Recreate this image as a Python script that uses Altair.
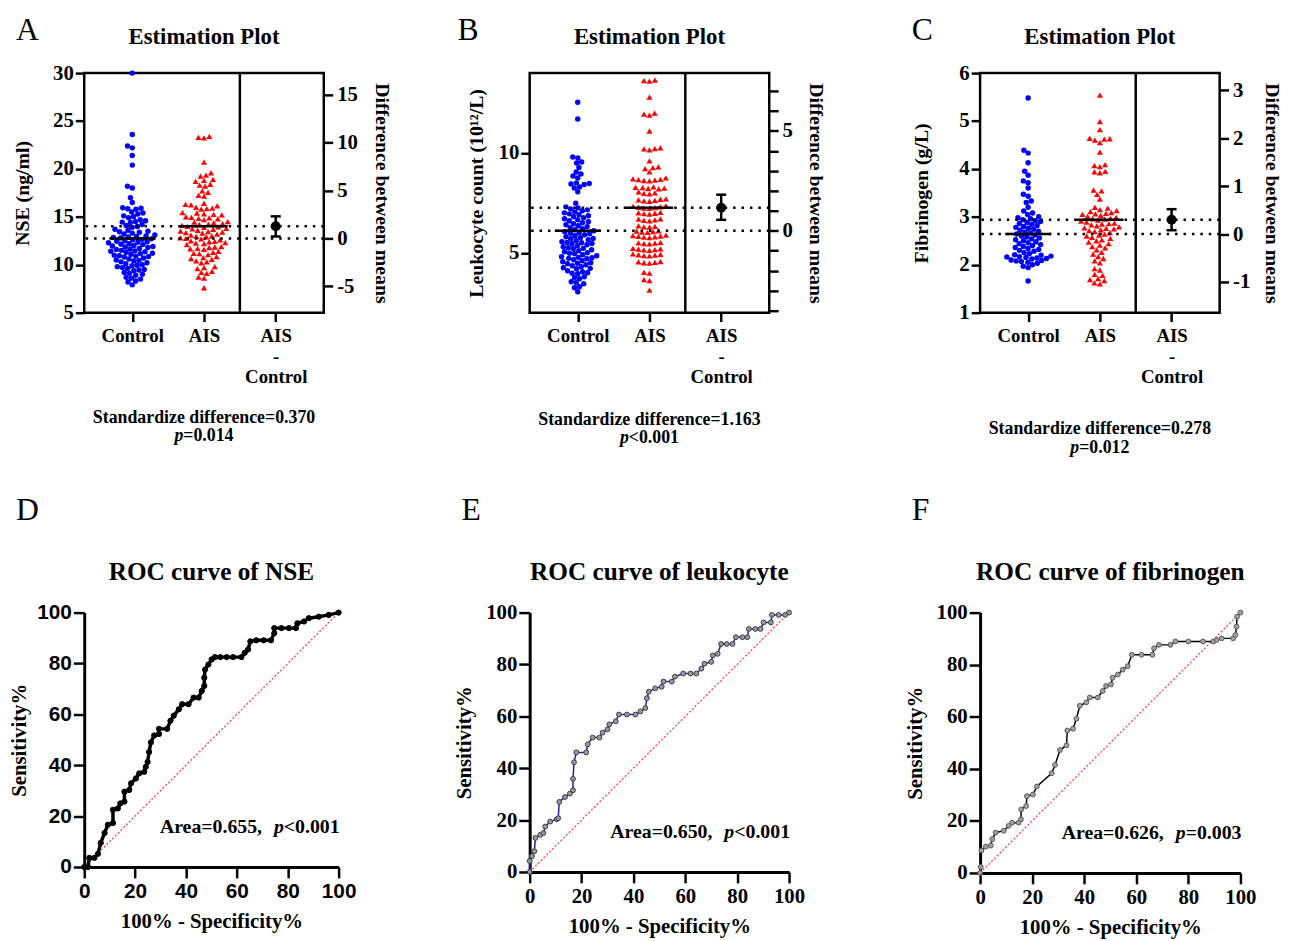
import altair as alt
import pandas as pd

SERIF = "Liberation Serif"
SANS = "Liberation Sans"

# ---------------- data ----------------
# Panel A: NSE (ng/ml)
nse_control = [30.0, 23.6, 22.4, 22.2, 21.4, 20.4, 18.2, 18.0, 17.0, 16.5,
               15.95, 15.9, 15.85, 15.8, 15.5, 15.4, 15.3, 15.1, 15.0, 14.9,
               14.7, 14.6, 14.5, 14.45, 14.4, 14.2, 14.1, 14.0, 13.9,
               13.7, 13.6, 13.5, 13.45, 13.4, 13.3, 13.2, 13.1,
               13.0, 12.95, 12.9, 12.85, 12.8, 12.7, 12.65, 12.6,
               12.5, 12.45, 12.4, 12.35, 12.3, 12.2, 12.15, 12.1,
               12.0, 11.95, 11.9, 11.85, 11.8, 11.7, 11.65, 11.6,
               11.5, 11.45, 11.4, 11.35, 11.3, 11.2, 11.15, 11.1,
               11.0, 10.95, 10.9, 10.85, 10.8, 10.7, 10.6,
               10.5, 10.45, 10.4, 10.3, 10.2, 10.1,
               10.0, 9.95, 9.9, 9.8, 9.7, 9.6, 9.5, 9.45, 9.4,
               9.2, 9.1, 9.0, 8.9, 8.7, 8.6, 8.5, 8.3, 8.2, 7.9]
nse_ais = [23.4, 23.3, 23.25, 20.7, 19.6, 19.35, 19.25, 18.9, 18.8, 18.7, 18.4, 18.3, 18.2,
           17.7, 17.55, 17.25, 17.15,
           16.4, 16.3, 16.25, 16.15, 16.0, 15.9, 15.85, 15.8,
           15.45, 15.4, 15.3, 15.25, 15.2, 15.0, 14.95, 14.9, 14.85, 14.8, 14.7,
           14.5, 14.45, 14.4, 14.3, 14.25, 14.2, 14.1,
           14.0, 13.95, 13.9, 13.8, 13.75, 13.7, 13.6,
           13.5, 13.45, 13.4, 13.35, 13.3, 13.2, 13.1,
           13.0, 12.95, 12.9, 12.8, 12.75, 12.7, 12.6,
           12.5, 12.45, 12.4, 12.3, 12.25, 12.2, 12.1,
           11.9, 11.85, 11.8, 11.7, 11.65, 11.6,
           11.4, 11.3, 11.2, 11.15, 11.05, 10.85, 10.75, 10.65, 10.55,
           10.4, 10.3, 10.2, 9.8, 9.7, 9.6, 9.3, 9.2, 9.1, 8.7, 8.6, 7.6]
nse_means = [12.75, 14.02]          # Control, AIS
nse_diff = [1.27, 0.2, 2.3]         # estimate, lower, upper

# Panel B: Leukocyte count
wbc_control = [12.54, 11.7, 9.8, 9.75, 9.55, 9.5, 9.27, 9.05, 8.95, 8.85, 8.75,
               8.5, 8.47, 8.45, 8.42, 8.3, 8.25, 8.06, 7.48,
               7.3, 7.25, 7.2, 7.15, 7.1, 7.05, 7.0, 6.95, 6.9, 6.85, 6.8, 6.75, 6.7,
               6.65, 6.6, 6.55, 6.5, 6.45, 6.4, 6.35, 6.3, 6.25, 6.2, 6.15, 6.1, 6.05,
               6.0, 5.98, 5.95, 5.9, 5.85, 5.8, 5.75, 5.72, 5.7, 5.65, 5.6, 5.55, 5.52,
               5.5, 5.47, 5.45, 5.4, 5.35, 5.3, 5.25, 5.22, 5.2, 5.15, 5.1, 5.05, 5.0,
               4.98, 4.95, 4.9, 4.85, 4.8, 4.77, 4.75, 4.72, 4.7, 4.65, 4.6, 4.55, 4.5,
               4.48, 4.45, 4.4, 4.35, 4.3, 4.25, 4.22, 4.2, 4.1, 4.05, 4.0, 3.98, 3.95,
               3.8, 3.75, 3.7, 3.55, 3.5, 3.45, 3.3, 3.25, 3.05]
wbc_ais = [13.65, 13.6, 13.62, 12.8, 12.0, 11.95, 11.9, 11.1, 10.25, 10.2, 10.22, 10.15,
           9.6, 9.3, 9.27, 9.22, 9.05,
           8.75, 8.7, 8.68, 8.66, 8.64, 8.62, 8.6, 8.3, 8.28, 8.26, 8.24, 8.22, 8.2,
           8.05, 8.0, 7.98, 7.95, 7.7, 7.68, 7.65, 7.62, 7.6, 7.58,
           7.35, 7.32, 7.3, 7.28, 7.26, 7.24, 7.22, 7.02, 7.0, 6.98, 6.96, 6.94,
           6.7, 6.68, 6.65, 6.62, 6.6, 6.35, 6.32, 6.3, 6.28,
           6.1, 6.08, 6.06, 6.04, 6.02, 5.88, 5.86, 5.84, 5.82, 5.8, 5.78, 5.76,
           5.52, 5.5, 5.48, 5.46, 5.44, 5.22, 5.2, 5.18, 5.16, 5.14, 5.12,
           4.94, 4.92, 4.9, 4.88, 4.86, 4.84, 4.56, 4.54, 4.52, 4.5, 4.48,
           4.02, 3.98, 3.65, 3.6, 3.13]
wbc_means = [6.1, 7.26]
wbc_diff = [1.16, 0.55, 1.81]

# Panel C: Fibrinogen (g/L)
fib_control = [5.48, 4.39, 4.33, 4.13, 3.95, 3.87, 3.75, 3.71, 3.6, 3.47, 3.43, 3.33, 3.3, 3.2,
               3.12, 3.08, 3.05, 3.0, 2.98, 2.96, 2.94, 2.92, 2.9, 2.88, 2.86, 2.84, 2.82,
               2.8, 2.78, 2.76, 2.74, 2.72, 2.7, 2.68, 2.66, 2.64, 2.62, 2.6, 2.58, 2.56,
               2.54, 2.52, 2.5, 2.48, 2.46, 2.44, 2.42, 2.4, 2.38, 2.36, 2.34, 2.32, 2.3,
               2.28, 2.25, 2.23, 2.21, 2.2, 2.18, 2.17, 2.16, 2.15, 2.14, 2.13, 2.12, 2.1,
               2.09, 2.08, 2.07, 2.05, 2.03, 2.0, 1.97, 1.94, 1.66]
fib_ais = [5.54, 4.99, 4.82, 4.64, 4.63, 4.62, 4.6, 4.55, 4.35, 4.09, 4.07, 4.05,
           3.95, 3.94, 3.92, 3.56, 3.54, 3.47, 3.37, 3.2, 3.18,
           3.15, 3.13, 3.11, 3.09, 3.07, 3.06, 3.05, 3.03, 3.01, 2.99, 2.97, 2.96, 2.95,
           2.93, 2.91, 2.89, 2.87, 2.86, 2.85, 2.83, 2.81, 2.79, 2.77, 2.76, 2.75, 2.73,
           2.71, 2.69, 2.67, 2.64, 2.62, 2.6, 2.57, 2.55, 2.52, 2.5, 2.47, 2.44, 2.41,
           2.38, 2.35, 2.31, 2.26, 2.22, 2.17, 2.13, 2.08, 2.04, 1.92, 1.89, 1.8, 1.78,
           1.71, 1.69, 1.67, 1.62, 1.6]
fib_means = [2.64, 2.94]
fib_diff = [0.30, 0.08, 0.52]

# ROC curves: (100% - Specificity%, Sensitivity%)
roc_nse = [(0, 0), (1.5, 0), (2, 3.6), (4, 3.6), (5.4, 5.2), (6.5, 9.5), (8, 13.4), (9.3, 16.6),
           (11.3, 17.3), (11.3, 22.5), (13.2, 23), (14.2, 25), (15.8, 25.7), (15.8, 29.6),
           (17.7, 30.3), (18.4, 32.9), (20.3, 34.8), (21.6, 36.8), (23.6, 37.4), (24.2, 39.4),
           (24.9, 41.3), (25.5, 45.2), (26.2, 49), (27.5, 51.7), (29.4, 52.3), (29.4, 54.3),
           (32.6, 54.3), (33.9, 57.5), (35.2, 59.5), (37.2, 62), (38.5, 64), (41, 64),
           (43, 66.6), (45, 66.6), (46.2, 69.2), (47.2, 71.2), (47.2, 74.4), (47.5, 77.6),
           (48.8, 79.6), (50.1, 81.6), (51.4, 82.5), (53.5, 82.5), (56, 82.5), (58.5, 82.5),
           (61.8, 82.5), (63.1, 84.2), (64.4, 85.5), (65.3, 88.7), (67.6, 89.1), (70.5, 89.1),
           (73.4, 89.1), (74.7, 91.9), (74.7, 93.9), (77.5, 93.9), (80.5, 93.9), (83.2, 93.9),
           (83.8, 95.8), (86.4, 96.5), (88.3, 97.8), (92.2, 98.4), (96.1, 99.1), (100, 100)]
roc_wbc = [(0, 0), (0, 4.2), (0.9, 6.1), (1.8, 8), (2.2, 13.1), (4.1, 14.3), (5.3, 15), (6, 17.5),
           (7.9, 19.4), (10.4, 20.3), (11, 20.7), (11.4, 27), (13.6, 28.9), (15.5, 30.2),
           (16.7, 31.5), (16.7, 35.9), (17.1, 42.3), (18, 46.1), (21.8, 46.1), (22.4, 49.2),
           (24.3, 51.8), (26.9, 51.8), (28.1, 53.7), (30, 55), (30.7, 56.9), (33.2, 58.1),
           (34.4, 60.7), (37.5, 60.7), (40.8, 60.7), (42.7, 61.9), (44.6, 63.2), (45.2, 67),
           (45.9, 69.5), (48.4, 70.8), (50.9, 71.4), (51.6, 73.4), (54.8, 73.4), (56, 75.3),
           (59.2, 76.5), (62, 76.5), (64.3, 76.5), (66.2, 78.4), (67.4, 80.3), (70, 81),
           (70.6, 83.5), (72.5, 84.1), (73.8, 87.9), (76, 87.9), (78.2, 87.9), (79.5, 90.5),
           (82, 90.5), (83.9, 90.5), (84.5, 93.7), (87, 93.7), (89, 93.7), (90.2, 96.2),
           (93, 96.2), (93.4, 99.1), (96, 99.1), (98.5, 99.1), (100, 100)]
roc_fib = [(0, 0), (0.25, 2.3), (0.5, 8.6), (2.2, 10.1), (4.1, 10.5), (4.7, 13), (6, 15.5),
           (9.1, 16.2), (11, 18.1), (12.3, 19.3), (14.8, 19.3), (15.7, 20.6), (15.8, 24.4),
           (17.7, 25.7), (18, 29.5), (20.3, 30.1), (21.8, 33.2), (27.5, 38.3), (28.8, 41.5),
           (30.7, 47.2), (33.2, 49), (33.5, 54.7), (35.7, 55.4), (37, 59.2), (38.3, 64.2),
           (40.8, 65.5), (42.1, 67.4), (45.2, 67.4), (47.1, 69.9), (48.4, 71.8), (50.3, 72.4),
           (50.9, 75), (52.9, 76.2), (54.8, 78.1), (56.7, 79.4), (58.3, 83.8), (62, 83.8),
           (66.2, 83.8), (66.8, 86.3), (68.7, 87.6), (73.1, 87.6), (75, 88.9), (80, 88.9),
           (85.6, 88.9), (89.6, 88.9), (90.9, 89.5), (92.8, 90.1), (97.2, 90.1), (98.1, 91.4),
           (98.5, 94.6), (98.7, 98.4), (100, 100)]


# ---------------- helpers ----------------
def swarm(values, px_per_unit, diam):
    """Beeswarm layout: horizontal pixel offsets so that markers do not overlap."""
    order = sorted(range(len(values)), key=lambda i: values[i])
    placed = []
    offs = [0.0] * len(values)
    for i in order:
        yp = values[i] * px_per_unit
        near = [(px, py) for px, py in placed if abs(py - yp) < diam]
        cands = [0.0]
        for px, py in near:
            dx = (diam * diam - (py - yp) ** 2) ** 0.5
            cands += [px + dx, px - dx]
        cands.sort(key=lambda c: (abs(c), c))
        best = cands[-1]
        for c in cands:
            if all((c - px) ** 2 + (py - yp) ** 2 >= diam * diam - 1e-6 for px, py in near):
                best = c
                break
        placed.append((best, yp))
        offs[i] = best
    return offs


def txt(s, x, y, size, weight="bold", style="normal", align="center", font=SERIF):
    return alt.Chart(pd.DataFrame({"t": [s]})).mark_text(
        font=font, fontSize=size, fontWeight=weight, fontStyle=style,
        align=align, baseline="alphabetic", color="black"
    ).encode(x=alt.value(x), y=alt.value(y), text="t:N")


def estimation_panel(ctrl, ais, means, diff, ylim, lticks, rticks, rshow, ytitle,
                     ypad, rpad, letter, lx, stat1, pval, sy):
    W = H = 242
    XD = [-0.67, 2.67]
    xpx = W / (XD[1] - XD[0])
    ypx = H / (ylim[1] - ylim[0])
    oc = swarm(ctrl, ypx, 5.2)
    oa = swarm(ais, ypx, 5.6)
    dfc = pd.DataFrame({"x": [o / xpx for o in oc], "y": ctrl})
    dfa = pd.DataFrame({"x": [1 + o / xpx for o in oa], "y": ais})
    xs = alt.Scale(domain=XD, nice=False, zero=False)
    ys = alt.Scale(domain=ylim, nice=False, zero=False)
    rs = alt.Scale(domain=[ylim[0] - means[0], ylim[1] - means[0]], nice=False, zero=False)

    xaxis = alt.Axis(
        values=[0, 1, 2], title=None, grid=False, domain=False, ticks=True,
        tickSize=9, tickWidth=2.5, tickColor="black",
        labelExpr="datum.value == 0 ? 'Control' : (datum.value == 1 ? 'AIS' : ['AIS', '-', 'Control'])",
        labelFont=SERIF, labelFontSize=19, labelFontWeight="bold", labelColor="black",
        labelPadding=5, labelLineHeight=21, labelFlush=False, labelOverlap=False)
    yaxis = alt.Axis(
        values=lticks, title=ytitle, titlePadding=ypad, grid=False, domain=False,
        tickSize=9, tickWidth=2.5, tickColor="black",
        labelFont=SERIF, labelFontSize=21, labelFontWeight="bold", labelColor="black",
        labelPadding=2, labelFlush=False, labelOverlap=False,
        titleFont=SERIF, titleFontSize=20, titleFontWeight="bold", titleColor="black")
    minus_expr = "datum.value < 0 ? '-' + abs(datum.value) : '' + datum.value"
    raxis = alt.Axis(
        orient="right", values=rticks,
        labelExpr="indexof(%s, datum.value) >= 0 ? (%s) : ''" % (str(rshow), minus_expr),
        title="Difference between means", titlePadding=rpad, grid=False, domain=False,
        tickSize=9, tickWidth=2.5, tickColor="black",
        labelFont=SERIF, labelFontSize=21, labelFontWeight="bold", labelColor="black",
        labelPadding=4, labelFlush=False, labelOverlap=False,
        titleFont=SERIF, titleFontSize=20, titleFontWeight="bold", titleColor="black")

    X = lambda f: alt.X(f, scale=xs, axis=xaxis)
    YL = lambda f: alt.Y(f, scale=ys, axis=yaxis)
    YR = lambda f: alt.Y(f, scale=rs, axis=raxis)

    pc = alt.Chart(dfc).mark_point(shape="circle", filled=True, size=30, color="#0000ff", opacity=1).encode(
        x=X("x:Q"), y=YL("y:Q"))
    pa = alt.Chart(dfa).mark_point(shape="triangle-up", filled=True, size=38, color="#ff0000", opacity=1).encode(
        x=X("x:Q"), y=YL("y:Q"))
    dotted = alt.Chart(pd.DataFrame({"y": means})).mark_rule(
        color="black", strokeWidth=2.5, strokeDash=[2.5, 6]).encode(y=YL("y:Q"))
    seg = alt.Chart(pd.DataFrame({"x": [-0.32, 0.67], "x2": [0.32, 1.33], "y": means})).mark_rule(
        color="black", strokeWidth=2.5).encode(x=X("x:Q"), x2="x2:Q", y=YL("y:Q"))
    divider = alt.Chart(pd.DataFrame({"x": [1.5]})).mark_rule(color="black", strokeWidth=2.5).encode(
        x=X("x:Q"))

    dd = pd.DataFrame({"x": [2.0], "lo": [diff[1]], "hi": [diff[2]], "d": [diff[0]]})
    ci = alt.Chart(dd).mark_rule(color="black", strokeWidth=2.5).encode(
        x=X("x:Q"), y=YR("lo:Q"), y2="hi:Q")
    caps = alt.Chart(pd.DataFrame({"x": [1.93, 1.93], "x2": [2.07, 2.07], "y": [diff[1], diff[2]]})).mark_rule(
        color="black", strokeWidth=2.5).encode(x=X("x:Q"), x2="x2:Q", y=YR("y:Q"))
    dot = alt.Chart(dd).mark_point(shape="circle", filled=True, size=100, color="black", opacity=1).encode(
        x=X("x:Q"), y=YR("d:Q"))

    wp = 0.5 * 18
    wrest = 2.82 * 18
    xsplit = W / 2 - (wp + wrest) / 2 + wp
    texts = [txt(letter, lx, -33, 32, weight="normal", align="left"),
             txt("Estimation Plot", W / 2, -29, 23),
             txt(stat1, W / 2, sy, 18),
             txt("p", xsplit, sy + 19, 18, style="italic", align="right"),
             txt(pval, xsplit, sy + 19, 18, align="left")]
    left = alt.layer(pc, pa, dotted, seg, divider, *texts)
    right = alt.layer(ci, caps, dot)
    return alt.layer(left, right).resolve_scale(y="independent").properties(
        width=W, height=H, view=alt.ViewBackground(stroke="black", strokeWidth=2.5))


def roc_panel(pairs, W, title, line_color, line_w, pt_fill, pt_stroke, pt_size, tick_font,
              area, val, letter, lx, ytpad):
    H = W
    df = pd.DataFrame({"i": list(range(len(pairs))),
                       "x": [p[0] for p in pairs], "y": [p[1] for p in pairs]})
    sc = alt.Scale(domain=[0, 100], nice=False, zero=False)
    common = dict(values=[0, 20, 40, 60, 80, 100], grid=False, domain=True, domainColor="black",
                  domainWidth=3, ticks=True, tickSize=11, tickWidth=2.5, tickColor="black",
                  labelFont=tick_font, labelFontSize=21, labelFontWeight="bold", labelColor="black",
                  labelFlush=False, labelOverlap=False,
                  titleFont=SERIF, titleFontSize=21, titleFontWeight="bold", titleColor="black")
    xax = alt.Axis(title="100% - Specificity%", labelPadding=3, titlePadding=9, **common)
    yax = alt.Axis(title="Sensitivity%", labelPadding=2, titlePadding=ytpad, **common)
    X = lambda f: alt.X(f, scale=sc, axis=xax)
    Y = lambda f: alt.Y(f, scale=sc, axis=yax)
    diag = alt.Chart(pd.DataFrame({"x": [0, 100], "y": [0, 100]})).mark_line(
        color="#ff2a2a", strokeWidth=1.1, strokeDash=[2, 2]).encode(x=X("x:Q"), y=Y("y:Q"))
    line = alt.Chart(df).mark_line(color=line_color, strokeWidth=line_w).encode(
        x=X("x:Q"), y=Y("y:Q"), order="i:Q")
    pts = alt.Chart(df).mark_point(shape="circle", filled=True, size=pt_size, fill=pt_fill,
                                   stroke=pt_stroke, strokeWidth=1, opacity=1).encode(
        x=X("x:Q"), y=Y("y:Q"))
    fs = 20
    wval = 2.82 * fs
    xr = W + 1
    texts = [txt(letter, lx, -94, 32, weight="normal", align="left"),
             txt(title, W / 2, -33, 25.5),
             txt(val, xr, H - 34, fs, align="right"),
             txt("p", xr - wval, H - 34, fs, style="italic", align="right"),
             txt(area, xr - wval - 0.5 * fs - 12, H - 34, fs, align="right")]
    return alt.layer(diag, line, pts, *texts).properties(width=W, height=H)


# ---------------- panels ----------------
pA = estimation_panel(nse_control, nse_ais, nse_means, nse_diff, [5, 30], [5, 10, 15, 20, 25, 30],
                      [-5, 0, 5, 10, 15], [-5, 0, 5, 10, 15], "NSE (ng/ml)", 20, 14,
                      "A", -69, "Standardize difference=0.370", "=0.014", 353)
pB = estimation_panel(wbc_control, wbc_ais, wbc_means, wbc_diff, [2, 14], [5, 10],
                      [-4, -3, -2, -1, 0, 1, 2, 3, 4, 5, 6, 7], [0, 5],
                      "Leukocyte count (10¹²/L)", 12, 13,
                      "B", -73, "Standardize difference=1.163", "<0.001", 355)
pC = estimation_panel(fib_control, fib_ais, fib_means, fib_diff, [1, 6], [1, 2, 3, 4, 5, 6],
                      [-1, 0, 1, 2, 3], [-1, 0, 1, 2, 3], "Fibrinogen (g/L)", 28, 12,
                      "C", -69, "Standardize difference=0.278", "=0.012", 365)

pD = roc_panel(roc_nse, 257, "ROC curve of NSE", "black", 3.5, "black", "black", 28, SANS,
               "Area=0.655,", "<0.001", "D", -69, 7)
pE = roc_panel(roc_wbc, 262, "ROC curve of leukocyte", "#1f1fa8", 1.5, "#9a9a9a", "#3a3a4a", 24, SERIF,
               "Area=0.650,", "<0.001", "E", -69, 11)
pF = roc_panel(roc_fib, 263, "ROC curve of fibrinogen", "black", 1.5, "#a0a0a0", "#5a5a5a", 24, SERIF,
               "Area=0.626,", "=0.003", "F", -69, 11)

chart = alt.concat(pA, pB, pC, pD, pE, pF, columns=3, bounds="flush",
                   spacing=alt.RowColnumber(row=303, column=193)).properties(
    padding={"left": 0, "top": 0, "right": 0, "bottom": 0}, background="white"
).configure_view(stroke=None)

chart.save("out.html", embed_options={"renderer": "svg", "actions": False})
